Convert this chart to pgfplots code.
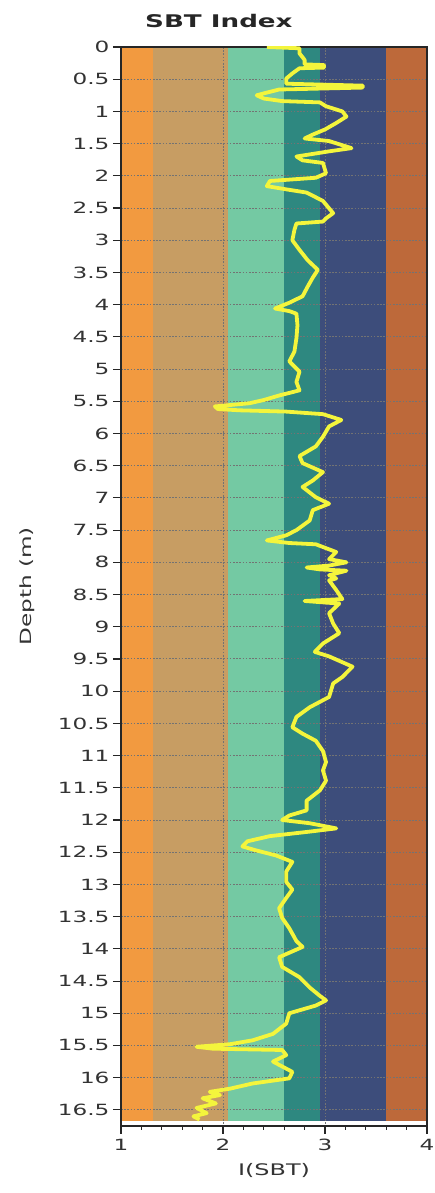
\documentclass[border=0pt]{standalone}
\usepackage{pgfplots}
\pgfplotsset{compat=1.18}
\usepackage{fontspec}
\setmainfont[FakeStretch=1.5]{DejaVu Sans}

% soil behaviour type zones (Ic boundaries 1.31, 2.05, 2.60, 2.95, 3.60)
\definecolor{zoneA}{HTML}{F29A40}
\definecolor{zoneB}{HTML}{C79D63}
\definecolor{zoneC}{HTML}{74C9A3}
\definecolor{zoneD}{HTML}{2E8880}
\definecolor{zoneE}{HTML}{3D4D7B}
\definecolor{zoneF}{HTML}{BD693A}
\definecolor{trace}{HTML}{F4F53C}

\begin{document}
\begin{tikzpicture}
\begin{axis}[
  at={(121bp,67bp)}, anchor=south west,
  scale only axis, width=306bp, height=1079bp,
  set layers,
  xmin=1, xmax=4, ymin=0, ymax=16.75,
  y dir=reverse,
  xtick={1,2,3,4}, minor x tick num=4,
  ytick={0,0.5,...,16.5},
  tick align=outside,
  major tick length=8bp, minor tick length=4bp,
  xtick pos=left, xticklabel pos=left,
  ytick pos=left, yticklabel pos=left,
  xmajorgrids, ymajorgrids,
  major grid style={draw=black!55, line width=1bp, dash pattern=on 1.6bp off 1.6bp},
  axis line style={draw=black!85, line width=1.1bp},
  tick style={draw=black!85, line width=1.1bp},
  /pgf/number format/assume math mode=true,
  tick label style={font=\fontsize{15.5}{17}\selectfont, text=black!80},
  xticklabel style={yshift=-2bp},
  title={SBT Index},
  title style={font=\fontsize{17.5}{20}\selectfont\bfseries, text=black!85, at={(0.32,1.019)}, anchor=center},
  ylabel={Depth (m)},
  ylabel style={font=\fontsize{15.5}{17}\selectfont, text=black!80, at={(-0.307,0.5)}, anchor=center},
  xlabel={I(SBT)},
  xlabel style={font=\fontsize{16}{18}\selectfont, text=black!80, at={(0.5,-0.041)}, anchor=center},
]
% zone bands
\addplot [on layer=axis background, draw=none, fill=zoneA] coordinates {(1,0) (1.31,0) (1.31,16.68) (1,16.68)} -- cycle;
\addplot [on layer=axis background, draw=none, fill=zoneB] coordinates {(1.31,0) (2.05,0) (2.05,16.68) (1.31,16.68)} -- cycle;
\addplot [on layer=axis background, draw=none, fill=zoneC] coordinates {(2.05,0) (2.60,0) (2.60,16.68) (2.05,16.68)} -- cycle;
\addplot [on layer=axis background, draw=none, fill=zoneD] coordinates {(2.60,0) (2.95,0) (2.95,16.68) (2.60,16.68)} -- cycle;
\addplot [on layer=axis background, draw=none, fill=zoneE] coordinates {(2.95,0) (3.60,0) (3.60,16.68) (2.95,16.68)} -- cycle;
\addplot [on layer=axis background, draw=none, fill=zoneF] coordinates {(3.60,0) (4,0) (4,16.68) (3.60,16.68)} -- cycle;

% SBT index profile (x = Ic, y = depth)
\addplot [trace, line width=3.8bp, line join=round, mark=none] table {
x y
2.43 0.00
2.75 0.02
2.75 0.10
2.80 0.20
2.80 0.27
2.99 0.28
2.99 0.32
2.75 0.33
2.68 0.41
2.62 0.49
2.62 0.57
3.37 0.60
3.37 0.63
2.55 0.66
2.40 0.72
2.33 0.75
2.40 0.80
2.58 0.84
2.95 0.86
3.01 0.92
3.17 1.00
3.21 1.08
3.11 1.18
3.00 1.28
2.88 1.36
2.80 1.42
3.04 1.46
3.26 1.57
3.04 1.62
2.72 1.70
2.78 1.76
2.98 1.80
3.01 1.96
2.91 2.03
2.46 2.08
2.43 2.16
2.62 2.21
2.82 2.26
2.98 2.39
3.08 2.58
3.01 2.66
2.98 2.71
2.72 2.74
2.70 2.84
2.68 3.00
2.75 3.15
2.83 3.31
2.93 3.46
2.88 3.58
2.83 3.72
2.78 3.87
2.65 3.97
2.51 4.06
2.65 4.10
2.72 4.14
2.73 4.32
2.72 4.52
2.70 4.73
2.65 4.88
2.75 5.04
2.72 5.20
2.75 5.33
2.55 5.41
2.40 5.48
2.26 5.53
1.92 5.58
1.95 5.62
2.16 5.64
2.62 5.66
2.98 5.70
3.16 5.79
3.04 5.89
2.98 6.05
2.91 6.20
2.75 6.35
2.78 6.46
2.98 6.60
2.88 6.73
2.78 6.83
2.91 6.99
3.04 7.09
2.88 7.19
2.85 7.35
2.72 7.50
2.62 7.58
2.43 7.66
2.65 7.70
2.91 7.72
3.11 7.84
3.04 7.95
3.21 8.00
3.04 8.05
2.82 8.08
2.95 8.11
3.21 8.13
3.04 8.20
3.11 8.25
3.04 8.28
3.11 8.43
3.17 8.57
2.80 8.60
3.14 8.64
3.04 8.79
3.08 8.95
3.14 9.10
2.98 9.26
2.90 9.39
3.04 9.46
3.27 9.62
3.17 9.78
3.08 9.88
3.04 10.09
2.85 10.25
2.72 10.40
2.68 10.56
2.78 10.66
2.91 10.77
2.98 10.93
3.01 11.10
2.98 11.23
3.01 11.39
2.95 11.54
2.82 11.70
2.82 11.85
2.65 11.93
2.58 12.00
2.85 12.05
3.11 12.13
2.85 12.18
2.46 12.25
2.24 12.33
2.19 12.41
2.32 12.47
2.52 12.55
2.68 12.65
2.62 12.80
2.62 12.96
2.68 13.08
2.62 13.21
2.55 13.37
2.58 13.52
2.65 13.68
2.72 13.88
2.78 13.97
2.55 14.13
2.58 14.28
2.75 14.44
2.85 14.60
2.95 14.73
3.01 14.80
2.91 14.88
2.65 15.00
2.62 15.16
2.49 15.32
2.29 15.42
2.07 15.48
1.74 15.52
1.90 15.55
2.58 15.57
2.62 15.65
2.49 15.75
2.68 15.91
2.65 16.01
2.29 16.09
2.07 16.17
1.87 16.22
1.97 16.27
1.80 16.32
1.93 16.40
1.74 16.47
1.84 16.55
1.71 16.60
1.77 16.65
};
\end{axis}
% fixed page frame
\pgfresetboundingbox
\path[use as bounding box] (0,0) rectangle (435bp,1193bp);
\end{tikzpicture}
\end{document}
